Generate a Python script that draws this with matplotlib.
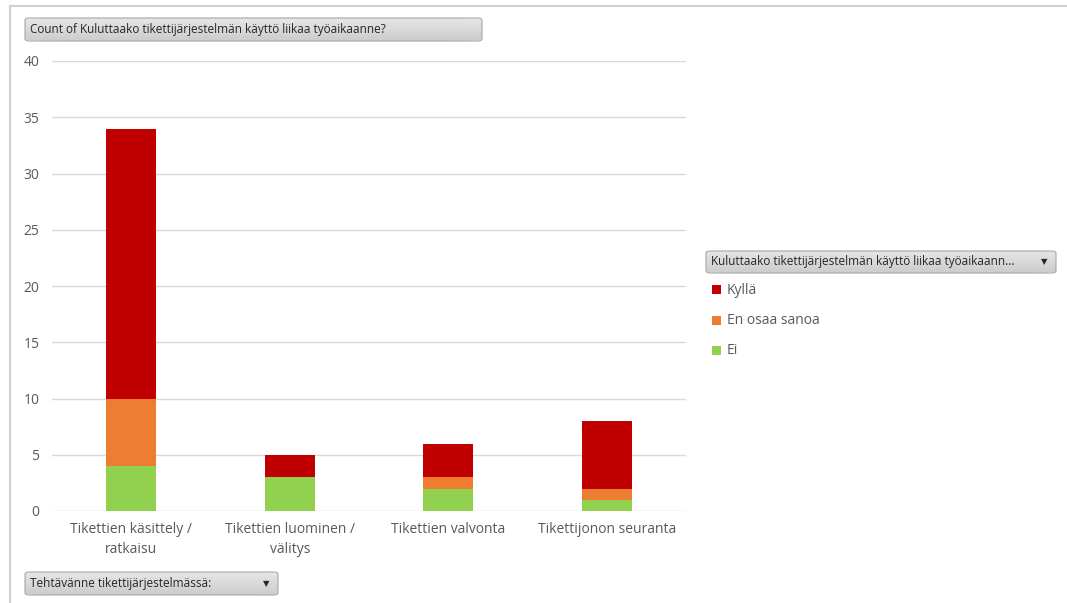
import matplotlib.pyplot as plt
from matplotlib.patches import FancyBboxPatch, Rectangle
import numpy as np

categories = ['Tikettien käsittely /\nratkaisu', 'Tikettien luominen /\nvälitys',
              'Tikettien valvonta', 'Tikettijonon seuranta']
series_names = ['Ei', 'En osaa sanoa', 'Kyllä']
ei = [4, 3, 2, 1]
en_osaa = [6, 0, 1, 1]
kylla = [24, 2, 3, 6]
colors = ['#92d050', '#ed7d31', '#c00000']

plt.rcParams['font.family'] = ['Open Sans', 'DejaVu Sans']

W, H = 1067, 603
fig = plt.figure(figsize=(W / 100, H / 100), dpi=100)
ax = fig.add_axes([52 / W, 1 - 511 / H, (686 - 52) / W, (511 - 61) / H])

x = np.arange(len(categories))
bottom = np.zeros(len(categories))
for vals, name, c in zip([ei, en_osaa, kylla], series_names, colors):
    ax.bar(x, vals, 0.315, bottom=bottom, color=c, label=name, zorder=3)
    bottom += np.array(vals)

ax.set_xlim(-0.5, 3.5)
ax.set_ylim(0, 40)
ax.set_yticks(range(0, 41, 5))
ax.set_xticks(x)
ax.set_xticklabels(categories, fontsize=10, color='#595959', linespacing=1.4)
ax.tick_params(axis='y', labelsize=10, labelcolor='#595959', length=0, pad=9)
ax.tick_params(axis='x', length=0, pad=8)
ax.grid(axis='y', color='#d9d9d9', linewidth=1, zorder=0)
for s in ax.spines.values():
    s.set_visible(False)

# outer frame lines
fig.add_artist(plt.Line2D([10 / W, 10 / W], [0, 1 - 6 / H], color='#d0d0d0', lw=1.5))
fig.add_artist(plt.Line2D([10 / W, 1], [1 - 6 / H, 1 - 6 / H], color='#d0d0d0', lw=1.5))

grad = np.linspace(0.90, 0.80, 32).reshape(-1, 1)


def button(x0, y0, x1, y1, text, arrow=False):
    # gray gradient pill like the pivot chart field buttons
    bg = fig.add_axes([x0 / W, 1 - y1 / H, (x1 - x0) / W, (y1 - y0) / H], zorder=4)
    im = bg.imshow(grad, cmap='gray', vmin=0, vmax=1, aspect='auto', extent=[0, 1, 0, 1])
    bg.axis('off')
    im.set_clip_path(FancyBboxPatch((0, 0), 1, 1, boxstyle='round,pad=0,rounding_size=0.08',
                                    transform=bg.transAxes))
    fig.add_artist(FancyBboxPatch((x0 / W, 1 - y1 / H), (x1 - x0) / W, (y1 - y0) / H,
                                  boxstyle='round,pad=0,rounding_size=0.004',
                                  facecolor='none', edgecolor='#a6a6a6', lw=0.8, zorder=5))
    fig.text((x0 + 5) / W, 1 - (y0 + y1) / 2 / H, text, fontsize=8.5, color='#262626',
             va='center', ha='left', zorder=6)
    if arrow:
        fig.text((x1 - 12) / W, 1 - (y0 + y1) / 2 / H, '▼', fontsize=6, color='#262626',
                 va='center', ha='center', family='DejaVu Sans', zorder=6)


button(25, 18, 482, 41, 'Count of Kuluttaako tikettijärjestelmän käyttö liikaa työaikaanne?')
button(706, 251, 1056, 273, 'Kuluttaako tikettijärjestelmän käyttö liikaa työaikaann...', True)
button(25, 572, 278, 595, 'Tehtävänne tikettijärjestelmässä:', True)

# legend
for i, (name, c) in enumerate(zip(series_names[::-1], colors[::-1])):
    yc = 290 + i * 30
    fig.add_artist(Rectangle((712 / W, 1 - (yc + 4.5) / H), 9 / W, 9 / H,
                             facecolor=c, edgecolor='none'))
    fig.text(727 / W, 1 - yc / H, name, fontsize=10, color='#595959', va='center')

fig.savefig('out.png', dpi=100)
